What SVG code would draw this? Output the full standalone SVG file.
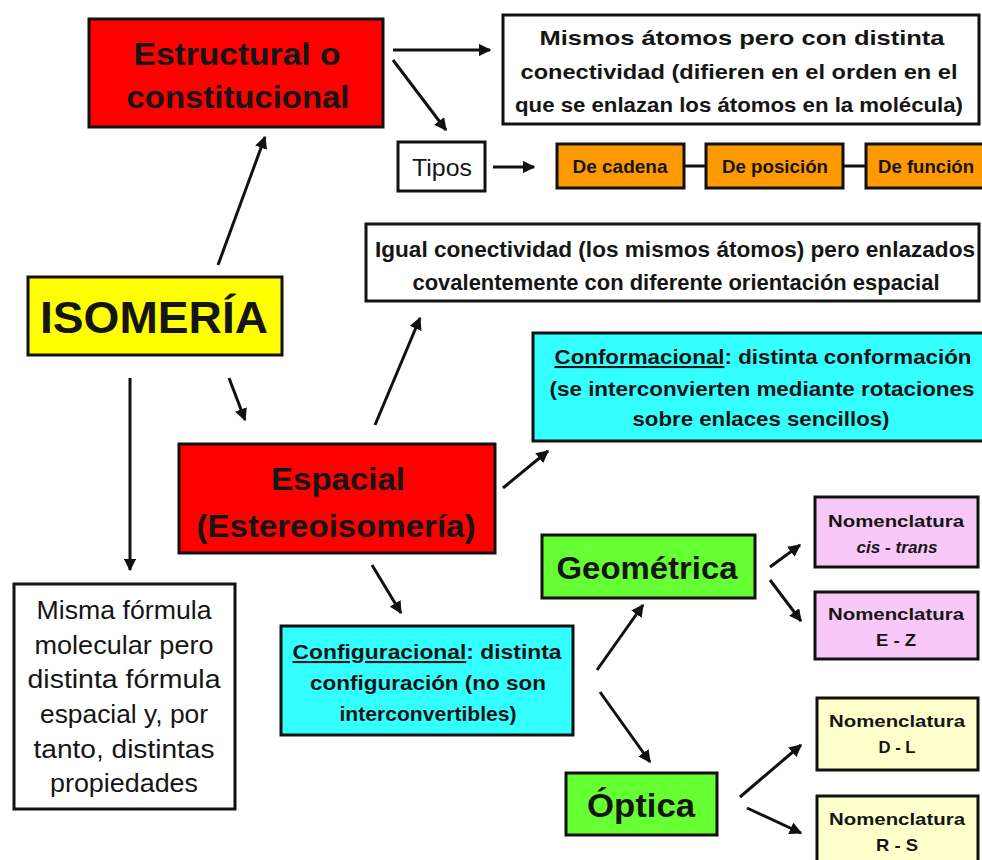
<svg xmlns="http://www.w3.org/2000/svg" width="982" height="860" viewBox="0 0 982 860">
<defs>
<marker id="ah" viewBox="0 0 10 10" refX="9" refY="5" markerWidth="4.2" markerHeight="4.2" orient="auto" markerUnits="strokeWidth">
<path d="M0,0 L10,5 L0,10 z" fill="#111"/>
</marker>
<style>
.box{stroke:#111;stroke-width:3}
.t{font-family:"Liberation Sans",Arial,sans-serif;fill:#151515;text-anchor:middle;font-weight:bold}
.n{font-weight:normal}
.c{stroke:#111;stroke-width:3;fill:none;marker-end:url(#ah)}
.l{stroke:#111;stroke-width:3;fill:none}
</style>
</defs>
<rect width="982" height="860" fill="#fff"/>

<g id="isomeria">
<rect class="box" x="28" y="277" width="254" height="78" fill="#ffff00"/>
<text class="t" x="154" y="333" font-size="44" textLength="228" lengthAdjust="spacingAndGlyphs">ISOMERÍA</text>
</g>

<g id="estructural">
<rect class="box" x="89" y="19" width="294" height="108" fill="#ff0000"/>
<text class="t" x="237" y="65" font-size="31" textLength="207" lengthAdjust="spacingAndGlyphs">Estructural o</text>
<text class="t" x="238" y="108" font-size="31" textLength="223" lengthAdjust="spacingAndGlyphs">constitucional</text>
</g>

<g id="mismos">
<rect class="box" x="503" y="15" width="476" height="109" fill="#fff"/>
<text class="t" x="742" y="45" font-size="21" textLength="405" lengthAdjust="spacingAndGlyphs">Mismos átomos pero con distinta</text>
<text class="t" x="739" y="79" font-size="21" textLength="437" lengthAdjust="spacingAndGlyphs">conectividad (difieren en el orden en el</text>
<text class="t" x="739" y="112" font-size="21" textLength="448" lengthAdjust="spacingAndGlyphs">que se enlazan los átomos en la molécula)</text>
</g>

<g id="tipos">
<rect class="box" x="398" y="142" width="87" height="49" fill="#fff"/>
<text class="t n" x="442" y="176" font-size="24" textLength="60" lengthAdjust="spacingAndGlyphs">Tipos</text>
</g>

<g id="cadena">
<rect class="box" x="557" y="144" width="127" height="44" fill="#ff9900"/>
<text class="t" x="620" y="173" font-size="19" textLength="95" lengthAdjust="spacingAndGlyphs">De cadena</text>
</g>
<g id="posicion">
<rect class="box" x="706" y="144" width="137" height="44" fill="#ff9900"/>
<text class="t" x="775" y="173" font-size="19" textLength="106" lengthAdjust="spacingAndGlyphs">De posición</text>
</g>
<g id="funcion">
<rect class="box" x="866" y="144" width="124" height="44" fill="#ff9900"/>
<text class="t" x="926" y="173" font-size="19" textLength="96" lengthAdjust="spacingAndGlyphs">De función</text>
</g>

<g id="igual">
<rect class="box" x="366" y="224" width="613" height="77" fill="#fff"/>
<text class="t" x="675" y="257" font-size="22" textLength="600" lengthAdjust="spacingAndGlyphs">Igual conectividad (los mismos átomos) pero enlazados</text>
<text class="t" x="676" y="290" font-size="22" textLength="527" lengthAdjust="spacingAndGlyphs">covalentemente con diferente orientación espacial</text>
</g>

<g id="conformacional">
<rect class="box" x="533" y="333" width="455" height="108" fill="#33ffff"/>
<text class="t" x="763" y="364" font-size="21" textLength="417" lengthAdjust="spacingAndGlyphs"><tspan text-decoration="underline">Conformacional</tspan>: distinta conformación</text>
<text class="t" x="762" y="396" font-size="21" textLength="425" lengthAdjust="spacingAndGlyphs">(se interconvierten mediante rotaciones</text>
<text class="t" x="761" y="426" font-size="21" textLength="257" lengthAdjust="spacingAndGlyphs">sobre enlaces sencillos)</text>
</g>

<g id="espacial">
<rect class="box" x="179" y="444" width="316" height="109" fill="#ff0000"/>
<text class="t" x="338" y="490" font-size="31" textLength="134" lengthAdjust="spacingAndGlyphs">Espacial</text>
<text class="t" x="336" y="537" font-size="31" textLength="279" lengthAdjust="spacingAndGlyphs">(Estereoisomería)</text>
</g>

<g id="misma">
<rect class="box" x="14" y="584" width="221" height="225" fill="#fff"/>
<text class="t n" x="124" y="619" font-size="25" textLength="175" lengthAdjust="spacingAndGlyphs">Misma fórmula</text>
<text class="t n" x="124" y="654" font-size="25" textLength="179" lengthAdjust="spacingAndGlyphs">molecular pero</text>
<text class="t n" x="124" y="688" font-size="25" textLength="193" lengthAdjust="spacingAndGlyphs">distinta fórmula</text>
<text class="t n" x="124" y="723" font-size="25" textLength="168" lengthAdjust="spacingAndGlyphs">espacial y, por</text>
<text class="t n" x="124" y="758" font-size="25" textLength="181" lengthAdjust="spacingAndGlyphs">tanto, distintas</text>
<text class="t n" x="124" y="792" font-size="25" textLength="148" lengthAdjust="spacingAndGlyphs">propiedades</text>
</g>

<g id="configuracional">
<rect class="box" x="281" y="626" width="292" height="109" fill="#33ffff"/>
<text class="t" x="427" y="659" font-size="21" textLength="269" lengthAdjust="spacingAndGlyphs"><tspan text-decoration="underline">Configuracional</tspan>: distinta</text>
<text class="t" x="428" y="690" font-size="21" textLength="236" lengthAdjust="spacingAndGlyphs">configuración (no son</text>
<text class="t" x="428" y="721" font-size="21" textLength="177" lengthAdjust="spacingAndGlyphs">interconvertibles)</text>
</g>

<g id="geometrica">
<rect class="box" x="542" y="535" width="213" height="63" fill="#66ff33"/>
<text class="t" x="647" y="579" font-size="31" textLength="181" lengthAdjust="spacingAndGlyphs">Geométrica</text>
</g>

<g id="optica">
<rect class="box" x="566" y="773" width="151" height="62" fill="#66ff33"/>
<text class="t" x="641" y="817" font-size="33" textLength="108" lengthAdjust="spacingAndGlyphs">Óptica</text>
</g>

<g id="cistrans">
<rect class="box" x="815" y="497" width="163" height="70" fill="#f8c8f8"/>
<text class="t" x="896" y="527" font-size="17" textLength="136" lengthAdjust="spacingAndGlyphs">Nomenclatura</text>
<text class="t" x="897" y="553" font-size="17" font-style="italic" font-weight="normal" textLength="81" lengthAdjust="spacingAndGlyphs">cis - trans</text>
</g>
<g id="ez">
<rect class="box" x="815" y="592" width="163" height="67" fill="#f8c8f8"/>
<text class="t" x="896" y="620" font-size="17" textLength="136" lengthAdjust="spacingAndGlyphs">Nomenclatura</text>
<text class="t" x="896" y="646" font-size="17" textLength="40" lengthAdjust="spacingAndGlyphs">E - Z</text>
</g>
<g id="dl">
<rect class="box" x="817" y="698" width="161" height="72" fill="#ffffcc"/>
<text class="t" x="897" y="727" font-size="17" textLength="136" lengthAdjust="spacingAndGlyphs">Nomenclatura</text>
<text class="t" x="897" y="753" font-size="17" textLength="37" lengthAdjust="spacingAndGlyphs">D - L</text>
</g>
<g id="rs">
<rect class="box" x="817" y="796" width="161" height="70" fill="#ffffcc"/>
<text class="t" x="897" y="825" font-size="17" textLength="136" lengthAdjust="spacingAndGlyphs">Nomenclatura</text>
<text class="t" x="897" y="851" font-size="17" textLength="42" lengthAdjust="spacingAndGlyphs">R - S</text>
</g>

<g id="connectors">
<line class="c" x1="218" y1="265" x2="265" y2="137"/>
<line class="c" x1="229" y1="378" x2="245" y2="420"/>
<line class="c" x1="130" y1="378" x2="130" y2="570"/>
<line class="c" x1="393" y1="50" x2="490" y2="50"/>
<line class="c" x1="393" y1="60" x2="446" y2="130"/>
<line class="c" x1="493" y1="167" x2="534" y2="167"/>
<line class="l" x1="684" y1="166" x2="706" y2="166"/>
<line class="l" x1="843" y1="166" x2="866" y2="166"/>
<line class="c" x1="375" y1="425" x2="420" y2="318"/>
<line class="c" x1="503" y1="488" x2="548" y2="451"/>
<line class="c" x1="372" y1="565" x2="401" y2="613"/>
<line class="c" x1="597" y1="670" x2="643" y2="605"/>
<line class="c" x1="600" y1="692" x2="650" y2="762"/>
<line class="c" x1="770" y1="567" x2="800" y2="545"/>
<line class="c" x1="770" y1="580" x2="801" y2="621"/>
<line class="c" x1="740" y1="797" x2="801" y2="745"/>
<line class="c" x1="747" y1="808" x2="801" y2="833"/>
</g>
</svg>
